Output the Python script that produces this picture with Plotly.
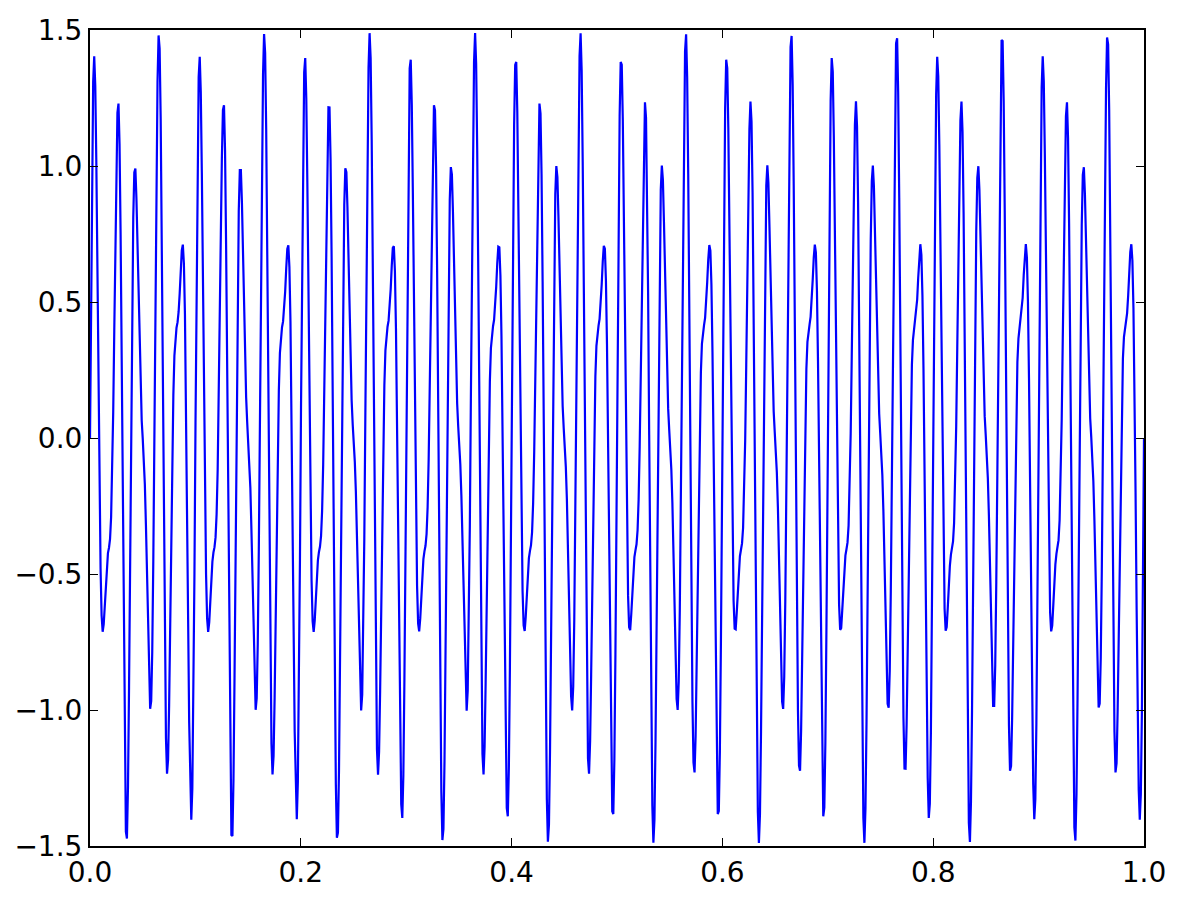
import numpy as np
import plotly.graph_objects as go

# Signal components (period 0.1, peaks ~±1.49)
frequencies = [50, 80]
amplitudes = [1.0, 0.5]
n_samples = 1000

x_ticks = [0.0, 0.2, 0.4, 0.6, 0.8, 1.0]
x_ticklabels = ["0.0", "0.2", "0.4", "0.6", "0.8", "1.0"]
y_ticks = [-1.5, -1.0, -0.5, 0.0, 0.5, 1.0, 1.5]
y_ticklabels = ["\u22121.5", "\u22121.0", "\u22120.5", "0.0", "0.5", "1.0", "1.5"]

t = np.linspace(0, 1, n_samples)
y = sum(a * np.sin(2 * np.pi * f * t) for f, a in zip(frequencies, amplitudes))

fig = go.Figure()
fig.add_trace(go.Scatter(x=t, y=y, mode="lines",
                         line=dict(color="#0000ff", width=2.2), hoverinfo="skip"))

axis_common = dict(
    showgrid=False, zeroline=False, showline=True, linecolor="black", linewidth=2,
    mirror="ticks", ticks="inside", ticklen=8, tickwidth=1, tickcolor="black",
    tickfont=dict(family="DejaVu Sans", size=28, color="black"),
    automargin=False, ticklabeloverflow="allow",
)
fig.update_layout(
    width=1181, height=900,
    margin=dict(l=82, r=45, t=22, b=62),
    paper_bgcolor="white", plot_bgcolor="white",
    showlegend=False,
    xaxis=dict(range=[0, 1], tickvals=x_ticks, ticktext=x_ticklabels,
               ticklabelstandoff=0, **axis_common),
    yaxis=dict(range=[-1.5, 1.5], tickvals=y_ticks, ticktext=y_ticklabels,
               ticklabelstandoff=0, **axis_common),
)
fig.write_html("out.html")
